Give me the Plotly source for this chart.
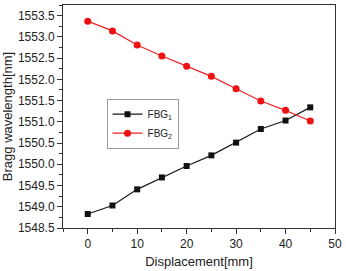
import plotly.graph_objects as go

displacement = [0, 5, 10, 15, 20, 25, 30, 35, 40, 45]
fbg1 = [1548.83, 1549.03, 1549.41, 1549.69, 1549.96, 1550.21, 1550.51, 1550.83, 1551.03, 1551.34]
fbg2 = [1553.37, 1553.14, 1552.81, 1552.55, 1552.31, 1552.07, 1551.78, 1551.49, 1551.27, 1551.02]
x_ticks = [0, 10, 20, 30, 40, 50]
y_ticks = [1548.5 + 0.5 * i for i in range(11)]

fig = go.Figure()
fig.add_trace(go.Scatter(x=displacement, y=fbg1, mode="lines+markers", name="FBG<sub>1</sub>",
                         line=dict(color="#1a1a1a", width=1.2),
                         marker=dict(symbol="square", size=6, color="#111111")))
fig.add_trace(go.Scatter(x=displacement, y=fbg2, mode="lines+markers", name="FBG<sub>2</sub>",
                         line=dict(color="#ee2222", width=1.2),
                         marker=dict(symbol="circle", size=7, color="#ee1111")))

font = "Liberation Sans, Arial, sans-serif"
fig.update_layout(
    width=346, height=271,
    margin=dict(l=63, r=9, t=4, b=43),
    paper_bgcolor="white", plot_bgcolor="white",
    font=dict(family=font, size=12, color="#222"),
    showlegend=True,
    legend=dict(x=0.16, y=0.58, xanchor="left", yanchor="top",
                bordercolor="#999", borderwidth=1, bgcolor="white",
                font=dict(size=10, family=font), tracegroupgap=0,
                itemwidth=30),
    xaxis=dict(range=[-5, 50], tickvals=x_ticks, ticks="outside", ticklen=5,
               showgrid=False, zeroline=False, showline=True, linecolor="#333",
               linewidth=1, mirror=True, tickcolor="#333",
               minor=dict(dtick=5, ticks="outside", ticklen=3, tickcolor="#333"),
               title=dict(text="Displacement[mm]", font=dict(size=13), standoff=6),
               tickfont=dict(size=12)),
    yaxis=dict(range=[1548.5, 1553.75], tickvals=y_ticks, tickformat=".1f",
               ticks="outside", ticklen=5,
               showgrid=False, zeroline=False, showline=True, linecolor="#333",
               linewidth=1, mirror=True, tickcolor="#333",
               minor=dict(dtick=0.25, tick0=1548.5, ticks="outside", ticklen=3, tickcolor="#333"),
               title=dict(text="Bragg wavelength[nm]", font=dict(size=13), standoff=4),
               tickfont=dict(size=12)),
)
fig.write_html("out.html")
